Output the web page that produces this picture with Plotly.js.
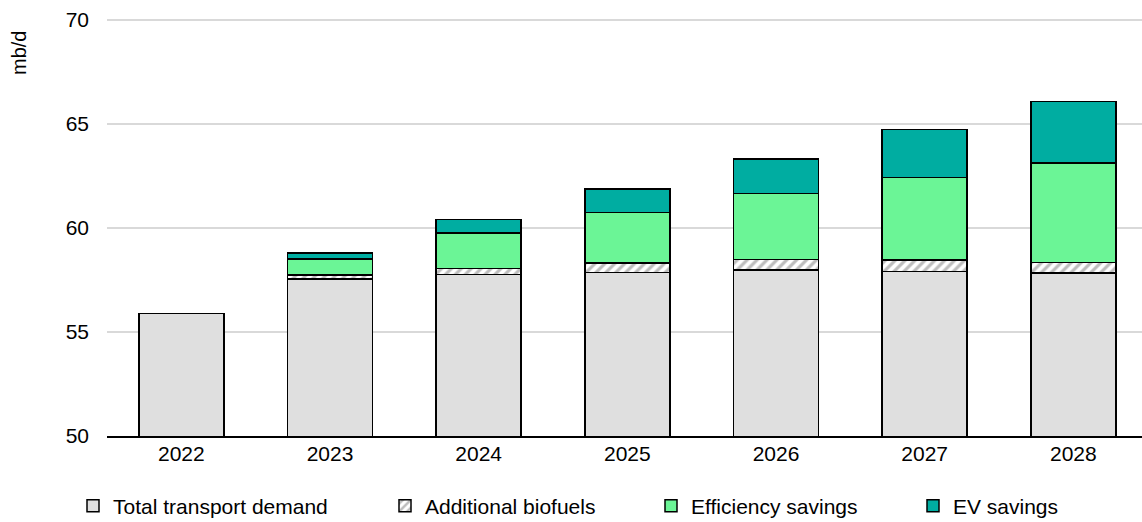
<!DOCTYPE html>
<html>
<head>
<meta charset="utf-8">
<script src="https://cdn.plot.ly/plotly-3.0.1.min.js"></script>
<style>
  html, body { margin: 0; padding: 0; background: #ffffff; }
  #chart { width: 1142px; height: 522px; }
</style>
</head>
<body>
<div id="chart"></div>
<script>
// Years on the category axis
const years = ['2022', '2023', '2024', '2025', '2026', '2027', '2028'];

// Stacked components, mb/d (2022 has the demand bar only)
const totalDemand        = [55.88, 57.55, 57.77, 57.87, 57.98, 57.90, 57.84];
const additionalBiofuels = [null, 0.19, 0.29, 0.46, 0.50, 0.56, 0.51];
const efficiencySavings  = [null, 0.77, 1.70, 2.41, 3.17, 3.96, 4.78];
const evSavings          = [null, 0.30, 0.64, 1.13, 1.68, 2.32, 2.96];

// Series names
const seriesNames = ['Total transport demand', 'Additional biofuels', 'Efficiency savings', 'EV savings'];
const yTicks = [50, 55, 60, 65, 70];

const FONT = 'Liberation Sans, Arial, sans-serif';
const outline = { color: '#000000', width: 1.5 };
const barWidth = 0.572;

const traces = [
  {
    type: 'bar', name: seriesNames[0], x: years, y: totalDemand, width: barWidth,
    marker: { color: '#dfdfdf', line: outline },
    legend: 'legend'
  },
  {
    type: 'bar', name: seriesNames[1], x: years, y: additionalBiofuels, width: barWidth,
    marker: {
      color: '#ffffff', line: outline,
      pattern: { shape: '/', fgcolor: '#bdbdbd', bgcolor: '#ffffff', size: 7, solidity: 0.45 }
    },
    legend: 'legend2'
  },
  {
    type: 'bar', name: seriesNames[2], x: years, y: efficiencySavings, width: barWidth,
    marker: { color: '#6bf596', line: outline },
    legend: 'legend3'
  },
  {
    type: 'bar', name: seriesNames[3], x: years, y: evSavings, width: barWidth,
    marker: { color: '#00ada1', line: outline },
    legend: 'legend4'
  }
];

const L = 107, R = 0, T = 19, B = 86, W = 1142, H = 522;
const plotW = W - L - R, plotH = H - T - B;
const px = v => (v - L) / plotW;
const py = v => (H - B - v) / plotH;

function legendAt(xPix) {
  return {
    x: px(xPix), xanchor: 'left',
    y: py(506), yanchor: 'middle',
    orientation: 'h',
    bgcolor: 'rgba(0,0,0,0)', borderwidth: 0,
    font: { family: FONT, size: 21, color: '#000000' },
    itemclick: false, itemdoubleclick: false
  };
}

const layout = {
  width: W, height: H,
  margin: { l: L, r: R, t: T, b: B, pad: 0, autoexpand: false },
  paper_bgcolor: '#ffffff', plot_bgcolor: '#ffffff',
  barmode: 'stack',
  bargap: 0,
  font: { family: FONT, size: 21, color: '#000000' },
  xaxis: {
    type: 'category',
    range: [-0.5, 6.462],
    showgrid: false, zeroline: false,
    showline: true, linecolor: '#000000', linewidth: 1.5,
    ticks: '', ticklabelstandoff: -2,
    tickfont: { family: FONT, size: 21, color: '#000000' },
    fixedrange: true
  },
  yaxis: {
    range: [50, 70.05],
    tickvals: yTicks, ticktext: yTicks.map(String),
    showgrid: true, gridcolor: '#d9d9d9', gridwidth: 1.5,
    zeroline: false, showline: false, ticks: '',
    ticklabelstandoff: 17,
    tickfont: { family: FONT, size: 21, color: '#000000' },
    fixedrange: true
  },
  showlegend: true,
  legend: legendAt(113 - 40),
  legend2: legendAt(425 - 40),
  legend3: legendAt(691 - 40),
  legend4: legendAt(953 - 40),
  annotations: [
    {
      text: 'mb/d', xref: 'paper', yref: 'paper',
      x: px(19), y: py(53), xanchor: 'center', yanchor: 'middle',
      textangle: -90, showarrow: false,
      font: { family: FONT, size: 20, color: '#000000' }
    }
  ]
};

Plotly.newPlot('chart', traces, layout, { displayModeBar: false, staticPlot: true });
</script>
</body>
</html>
